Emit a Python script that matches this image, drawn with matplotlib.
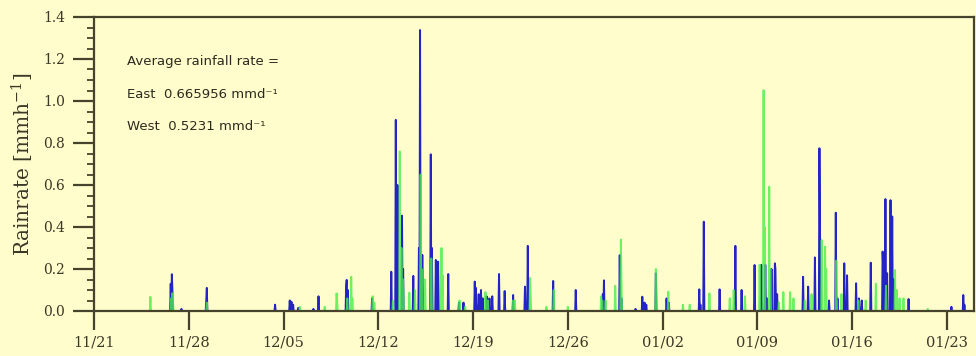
import numpy as np
import matplotlib
matplotlib.use("Agg")
import matplotlib.pyplot as plt
from matplotlib.ticker import MultipleLocator, FixedLocator, FixedFormatter

# ---- data: hourly rain rate [mm/h], non-zero hours given as (day offset from 11/21, rate) ----
east_days = [5.65, 5.74, 5.8, 6.45, 8.28, 8.32, 13.37, 14.45, 14.6, 14.7, 15.1, 16.2, 16.57,
             18.62, 18.66, 18.75, 20.55, 21.95, 22.3, 22.4, 22.77, 22.85, 23.6, 24.02, 24.08,
             24.27, 24.86, 24.95, 25.26, 25.43, 26.17, 26.95, 27.3, 28.14, 28.22, 28.4, 28.58,
             28.7, 29.0, 29.2, 29.4, 29.93, 30.35, 30.97, 31.83, 32.03, 33.92, 35.57, 37.6,
             37.67, 38.85, 38.95, 40.0, 40.5, 40.65, 40.8, 41.48, 42.3, 42.45, 44.69, 44.8,
             45.06, 46.2, 47.39, 47.83, 48.8, 49.29, 49.35, 49.6, 49.7, 50.05, 50.29, 50.35,
             50.45, 52.38, 52.75, 53.25, 53.57, 53.62, 54.3, 54.8, 54.9, 55.4, 55.64, 56.28,
             56.5, 56.7, 57.36, 58.24, 58.3, 58.44, 58.6, 58.83, 58.95, 59.05, 60.18, 63.34,
             64.2, 64.3]
east_rate = [0.13, 0.175, 0.10, 0.01, 0.05, 0.11, 0.03, 0.05, 0.044, 0.03, 0.015, 0.01, 0.07,
             0.12, 0.148, 0.10, 0.06, 0.187, 0.91, 0.6, 0.454, 0.2, 0.167, 0.3, 1.338,
             0.267, 0.746, 0.3, 0.243, 0.235, 0.176, 0.04, 0.04, 0.14, 0.11, 0.08, 0.10,
             0.06, 0.07, 0.06, 0.07, 0.176, 0.095, 0.076, 0.116, 0.31, 0.143, 0.10, 0.08,
             0.146, 0.266, 0.06, 0.01, 0.068, 0.04, 0.03, 0.18, 0.06, 0.04, 0.103, 0.03,
             0.425, 0.103, 0.31, 0.10, 0.219, 0.22, 0.05, 0.22, 0.06, 0.20, 0.227, 0.20,
             0.08, 0.163, 0.116, 0.255, 0.775, 0.35, 0.05, 0.468, 0.06, 0.227, 0.17, 0.132,
             0.06, 0.05, 0.23, 0.283, 0.20, 0.533, 0.18, 0.528, 0.45, 0.15, 0.057, 0.02,
             0.076, 0.03]

west_days = [4.18, 5.7, 5.78, 5.85, 8.35, 15.2, 17.04, 17.9, 17.96, 18.7, 19.0, 19.1, 20.6,
             20.7, 22.1, 22.6, 22.7, 22.85, 23.3, 23.7, 24.12, 24.2, 24.45, 24.9, 25.68, 25.75,
             27.0, 27.4, 28.9, 29.1, 30.95, 31.1, 32.2, 32.25, 33.4, 33.95, 35.0, 37.45, 37.55,
             37.8, 38.48, 38.9, 38.95, 41.5, 41.55, 42.4, 43.5, 44.0, 45.46, 46.94, 47.25,
             48.1, 49.17, 49.47, 49.55, 49.87, 49.95, 50.6, 50.9, 51.4, 51.65, 52.5, 53.0,
             53.75, 54.0, 54.1, 54.85, 55.2, 56.45, 57.0, 57.75, 58.5, 59.15, 59.3, 59.5,
             59.8, 61.6]
west_rate = [0.068, 0.06, 0.085, 0.05, 0.04, 0.02, 0.02, 0.084, 0.05, 0.06, 0.163, 0.06, 0.07,
             0.04, 0.05, 0.76, 0.3, 0.15, 0.087, 0.10, 0.65, 0.2, 0.15, 0.25, 0.30, 0.17,
             0.05, 0.02, 0.09, 0.05, 0.05, 0.05, 0.157, 0.08, 0.02, 0.10, 0.02, 0.07, 0.05,
             0.05, 0.12, 0.34, 0.15, 0.20, 0.10, 0.092, 0.03, 0.03, 0.084, 0.06, 0.10,
             0.07, 0.22, 1.052, 0.4, 0.592, 0.2, 0.04, 0.09, 0.09, 0.06, 0.05, 0.08,
             0.338, 0.306, 0.2, 0.24, 0.08, 0.05, 0.05, 0.13, 0.12, 0.195, 0.10, 0.06,
             0.06, 0.01]

tick_labels = ["11/21", "11/28", "12/05", "12/12", "12/19", "12/26",
               "01/02", "01/09", "01/16", "01/23"]
y_ticks = [0.0, 0.2, 0.4, 0.6, 0.8, 1.0, 1.2, 1.4]
mean_east = "0.665956"
mean_west = "0.5231"

# ---- hourly time axis ----
n_days = 65
hours = np.arange(0, n_days * 24 + 1)
t_days = hours / 24.0


def hourly(days, rates):
    y = np.zeros(hours.size)
    idx = np.rint(np.asarray(days) * 24).astype(int)
    for i, r in zip(idx, rates):
        y[i] = max(y[i], r)
    return y


east = hourly(east_days, east_rate)
west = hourly(west_days, west_rate)

bg = "#FFFDCC"
frame = "#45432c"
plt.rcParams["mathtext.fontset"] = "dejavuserif"

fig = plt.figure(figsize=(9.76, 3.56), dpi=100, facecolor=bg)
ax = fig.add_axes([94 / 976, 45 / 356, 880 / 976, 294 / 356], facecolor=bg)

ax.plot(t_days, east, color="#2323c6", lw=1.4, zorder=2)
ax.plot(t_days, west, color="#48ee48", lw=1.4, alpha=0.8, zorder=2.1)

ax.set_xlim(0, n_days)
ax.set_ylim(0, 1.4)

ax.xaxis.set_major_locator(FixedLocator([7 * i for i in range(len(tick_labels))]))
ax.xaxis.set_major_formatter(FixedFormatter(tick_labels))
ax.set_yticks(y_ticks)
ax.set_yticklabels([f"{v:.1f}" for v in y_ticks])
ax.yaxis.set_minor_locator(MultipleLocator(0.05))

for s in ax.spines.values():
    s.set_color(frame)
    s.set_linewidth(1.6)
    s.set_zorder(3)

ax.tick_params(axis="x", which="major", direction="out", length=14, width=1.6,
               color=frame, pad=4, labelsize=10.5, labelcolor="#3a3826")
ax.tick_params(axis="y", which="major", direction="out", length=15, width=1.6,
               color=frame, pad=6, labelsize=10, labelcolor="#3a3826")
ax.tick_params(axis="y", which="minor", direction="out", length=5, width=1.3, color=frame)
for lab in ax.get_xticklabels() + ax.get_yticklabels():
    lab.set_family("DejaVu Serif")

ax.set_ylabel("Rainrate [mmh$^{-1}$]", family="DejaVu Serif", fontsize=14.5,
              color="#3a3826", labelpad=5)

txt = dict(transform=ax.transAxes, va="center", ha="left", fontsize=9.5,
           family="DejaVu Sans", color="#2b2a1e")
ax.text(0.038, 0.850, "Average rainfall rate =", **txt)
ax.text(0.038, 0.738, f"East  {mean_east} mmd\u207b\u00b9", **txt)
ax.text(0.038, 0.629, f"West  {mean_west} mmd\u207b\u00b9", **txt)

fig.savefig("out.png", dpi=100, facecolor=bg)
